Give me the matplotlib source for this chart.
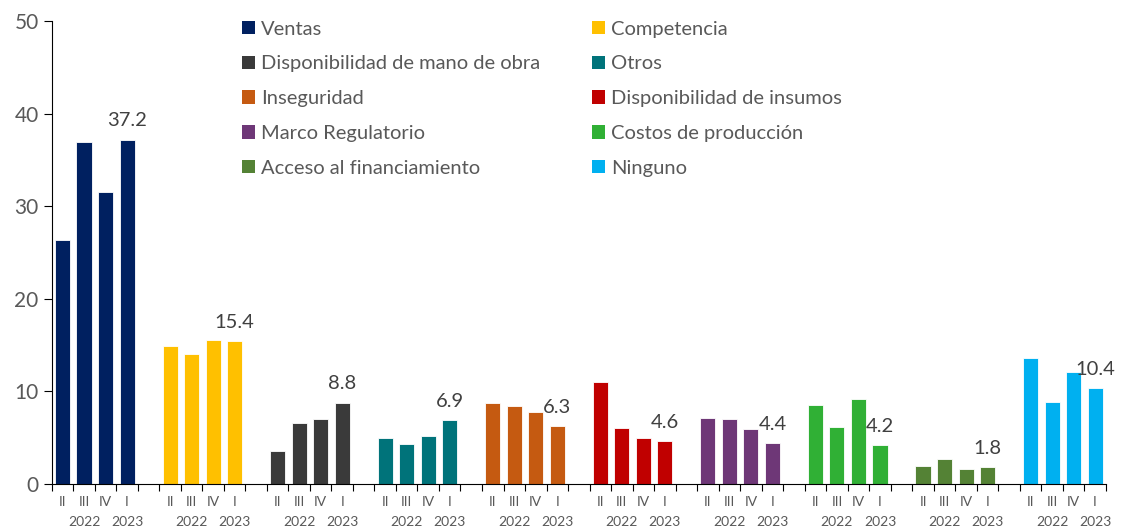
import numpy as np
import matplotlib
matplotlib.use("Agg")
import matplotlib.pyplot as plt
from matplotlib.patches import Patch
import matplotlib.transforms as mtransforms

plt.rcParams['font.family'] = ['Lato', 'DejaVu Sans']

# ---------------------------
# datos
# ---------------------------
categorias = ["Ventas", "Competencia", "Disponibilidad de mano de obra", "Otros",
              "Inseguridad", "Disponibilidad de insumos", "Marco Regulatorio",
              "Costos de producción", "Acceso al financiamiento", "Ninguno"]
colores = ["#002060", "#FFC000", "#3A3A3A", "#00737A", "#C55A11",
           "#C00000", "#6E3777", "#30B035", "#548235", "#00B0F0"]
trimestres = ["II", "III", "IV", "I"]
anios = ["2022", "2023"]

valores = [
    [26.4, 37.0, 31.5, 37.2],
    [14.9, 14.0, 15.6, 15.4],
    [3.6, 6.6, 7.0, 8.8],
    [5.0, 4.3, 5.2, 6.9],
    [8.7, 8.4, 7.8, 6.3],
    [11.0, 6.1, 5.0, 4.6],
    [7.1, 7.0, 5.9, 4.4],
    [8.5, 6.2, 9.2, 4.2],
    [2.0, 2.7, 1.6, 1.8],
    [13.6, 8.9, 12.1, 10.4],
]

gris = "#595959"

fig = plt.figure(figsize=(11.25, 5.29), dpi=100)
ax = fig.add_axes([0.046, 0.085, 0.937, 0.875])

paso = 5  # 4 barras + 1 hueco por grupo
for g, (vals, col) in enumerate(zip(valores, colores)):
    xs = np.arange(4) + g * paso
    ax.bar(xs, vals, width=0.7, color=col, edgecolor="white", linewidth=0.6, zorder=2)
    # etiqueta del último valor
    ax.text(xs[-1], vals[-1] + 1.1, f"{vals[-1]:.1f}", ha="center", va="bottom",
            fontsize=14.5, color="#404040")

n = len(valores) * paso - 1
ax.set_xlim(-0.5, n - 0.5)
ax.set_ylim(0, 50)
ax.set_yticks([0, 10, 20, 30, 40, 50])
ax.tick_params(axis="y", labelsize=15, labelcolor=gris, color="black",
               length=6, direction="out")
ax.set_xticks(np.arange(-0.5, n, 1))
ax.set_xticklabels([])
ax.tick_params(axis="x", length=5, direction="out", color="black")

for s in ["top", "right"]:
    ax.spines[s].set_visible(False)
ax.spines["left"].set_color("black")
ax.spines["bottom"].set_color("black")

# etiquetas de trimestre y año
trans = mtransforms.blended_transform_factory(ax.transData, ax.transAxes)
for g in range(len(valores)):
    for i, q in enumerate(trimestres):
        ax.text(g * paso + i, -0.026, q, transform=trans, ha="center", va="top",
                fontsize=10, color=gris)
    ax.text(g * paso + 1, -0.068, anios[0], transform=trans, ha="center", va="top",
            fontsize=10, color=gris)
    ax.text(g * paso + 3, -0.068, anios[1], transform=trans, ha="center", va="top",
            fontsize=10, color=gris)

# leyenda en dos columnas (orden por filas)
orden = [0, 2, 4, 6, 8, 1, 3, 5, 7, 9]
handles = [Patch(facecolor=colores[i], label=categorias[i]) for i in orden]
ax.legend(handles=handles, ncol=2, loc="upper left", bbox_to_anchor=(0.163, 1.04),
          frameon=False, fontsize=14.5, labelcolor=gris, handlelength=0.65,
          handleheight=0.65, handletextpad=0.3, columnspacing=2.6, labelspacing=0.88)

fig.savefig("out.png", dpi=100)
